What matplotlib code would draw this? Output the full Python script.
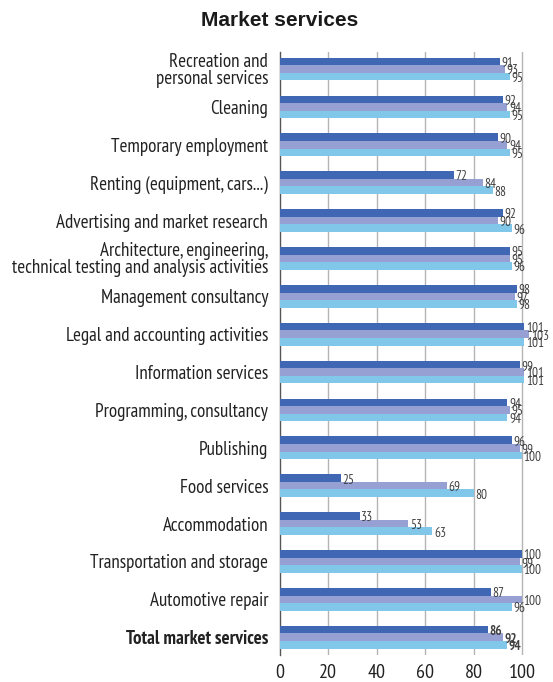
import matplotlib
matplotlib.use("Agg")
import matplotlib.pyplot as plt
import numpy as np
from matplotlib import font_manager

categories = [
    "Recreation and\npersonal services",
    "Cleaning",
    "Temporary employment",
    "Renting (equipment, cars...)",
    "Advertising and market research",
    "Architecture, engineering,\ntechnical testing and analysis activities",
    "Management consultancy",
    "Legal and accounting activities",
    "Information services",
    "Programming, consultancy",
    "Publishing",
    "Food services",
    "Accommodation",
    "Transportation and storage",
    "Automotive repair",
    "Total market services",
]
series_a = [91, 92, 90, 72, 92, 95, 98, 101, 99, 94, 96, 25, 33, 100, 87, 86]
series_b = [93, 94, 94, 84, 90, 95, 97, 103, 101, 95, 99, 69, 53, 99, 100, 92]
series_c = [95, 95, 95, 88, 96, 96, 98, 101, 101, 94, 100, 80, 63, 100, 96, 94]
x_ticks = [0, 20, 40, 60, 80, 100]

colors = ["#4067b4", "#96a0d3", "#80c7e9"]

# Prefer a narrow sans face that ships both regular and bold weights
weights = {}
for f in font_manager.fontManager.ttflist:
    if f.style == "normal":
        weights.setdefault(f.name, set()).add(int(f.weight) if str(f.weight).isdigit() else f.weight)
narrow_candidates = [
    "Arial Narrow", "Liberation Sans Narrow", "Archivo Narrow", "PT Sans Narrow",
    "Roboto Condensed", "Pragati Narrow", "Encode Sans Condensed",
    "IBM Plex Sans Condensed", "Fira Sans Condensed", "Asap Condensed",
    "Open Sans Condensed", "Barlow Semi Condensed",
]
with_bold = [n for n in narrow_candidates
             if n in weights and any(isinstance(w, int) and w >= 600 for w in weights[n])]
any_narrow = [n for n in narrow_candidates if n in weights]
narrow = (with_bold or any_narrow or ["Liberation Sans"])[0]
plt.rcParams["font.family"] = [narrow, "DejaVu Sans"]

fig = plt.figure(figsize=(5.53, 6.82), dpi=100)
ax = fig.add_axes([280 / 553, 1 - 655 / 682, 1 - 280 / 553, (655 - 52) / 682])

y = np.arange(len(categories))
h = 0.2
for k, (vals, col) in enumerate(zip([series_a, series_b, series_c], colors)):
    pos = y + (k - 1) * h
    ax.barh(pos, vals, height=h, color=col, zorder=3)
    for i, (p, v) in enumerate(zip(pos, vals)):
        bold = i == len(categories) - 1
        ax.text(v + 0.6, p + 0.05, str(v), va="center", ha="left",
                fontsize=9.5, color="#404040",
                fontweight="bold" if bold else "normal", zorder=4)

ax.set_ylim(len(categories) - 1 + 0.47, -0.45)
ax.set_xlim(0, (553 - 280) / 2.42)
ax.set_xticks(x_ticks)
ax.set_xticklabels([str(t) for t in x_ticks], fontsize=14.5, color="#222222")
ax.set_yticks(y)
ax.set_yticklabels(categories, fontsize=13.7, color="#222222", linespacing=0.92)
ax.get_yticklabels()[-1].set_fontweight("bold")
ax.tick_params(axis="both", length=0)
ax.tick_params(axis="y", pad=8.5)
ax.tick_params(axis="x", pad=6.5)

for t in x_ticks[1:]:
    ax.axvline(t, color="#b4b4b4", linewidth=1.0, zorder=1)

for s in ["top", "right", "bottom"]:
    ax.spines[s].set_visible(False)
ax.spines["left"].set_color("#555555")
ax.spines["left"].set_linewidth(1.0)

fig.text(280 / 553, 1 - 20 / 682, "Market services", ha="center", va="center",
         fontsize=15, fontweight="bold", family=["Liberation Sans", "DejaVu Sans"],
         color="#1a1a1a")

fig.savefig("out.png", dpi=100)
